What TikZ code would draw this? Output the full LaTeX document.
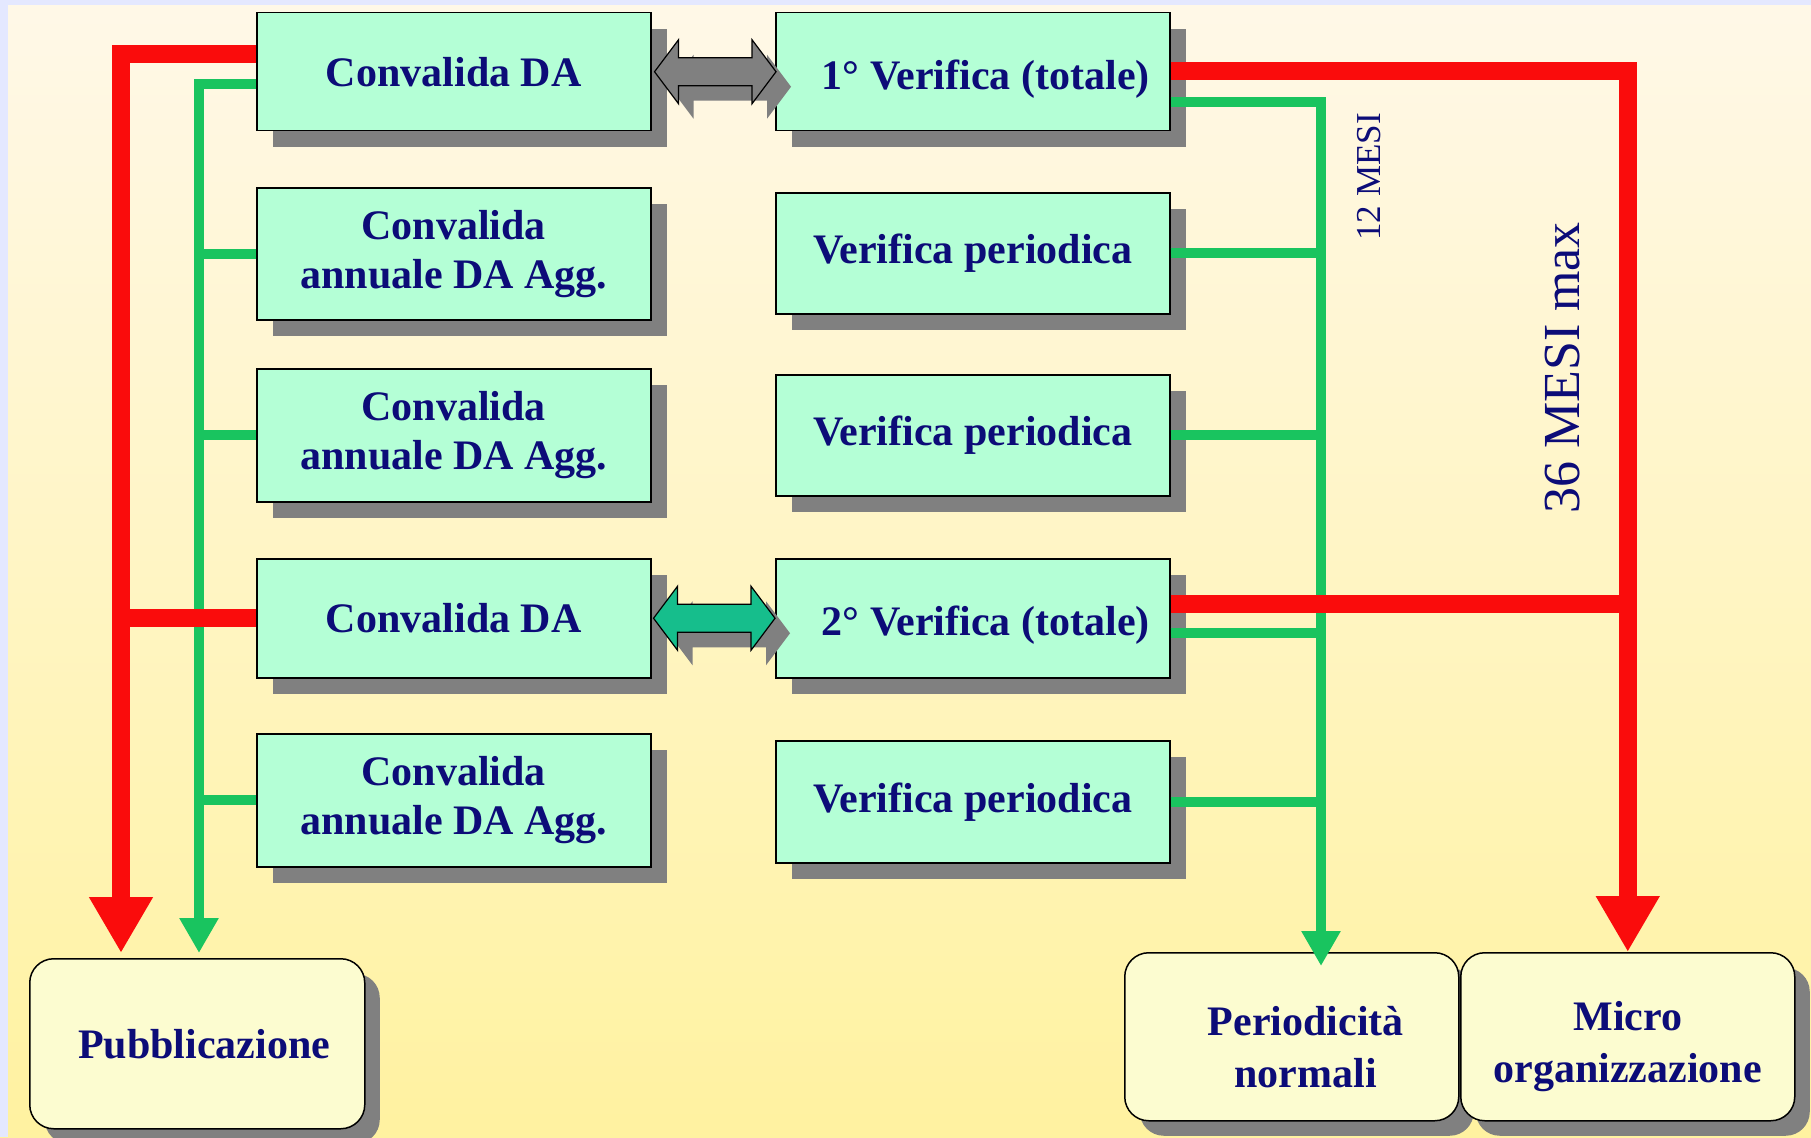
\documentclass[tikz,border=0pt]{standalone}
\usepackage{fontspec}
\setmainfont{Liberation Serif}
\usetikzlibrary{calc,arrows.meta,shadows}
\definecolor{bgtop}{RGB}{255,248,232}
\definecolor{bgmid}{RGB}{255,246,205}
\definecolor{bgbot}{RGB}{255,242,160}
\definecolor{edgeblue}{RGB}{228,232,255}
\definecolor{mint}{RGB}{180,255,214}
\definecolor{cream}{RGB}{252,252,208}
\definecolor{shadowgray}{RGB}{128,128,128}
\definecolor{arrgray}{RGB}{128,128,128}
\definecolor{navy}{RGB}{12,12,120}
\definecolor{lred}{RGB}{250,12,12}
\definecolor{lgreen}{RGB}{25,196,95}
\definecolor{tealarr}{RGB}{22,190,140}
\newcommand\bxfont{\bfseries\fontsize{42}{49}\selectfont}
\newcommand\botfont{\bfseries\fontsize{42}{52}\selectfont}
\newcommand\dbarr[4]{%
  \path[#4] ($(#1)+(#3,#3)$) -- ($(#1)+({#3+24},{#3-32})$) -- ($(#1)+({#3+24},{#3-14})$)
    -- ($(#2)+({#3-24},{#3-14})$) -- ($(#2)+({#3-24},{#3-32})$) -- ($(#2)+(#3,#3)$)
    -- ($(#2)+({#3-24},{#3+32})$) -- ($(#2)+({#3-24},{#3+14})$)
    -- ($(#1)+({#3+24},{#3+14})$) -- ($(#1)+({#3+24},{#3+32})$) -- cycle;}
\begin{document}
\begin{tikzpicture}[x=1pt,y=-1pt,
  box/.style={draw=black, line width=1.5pt, fill=mint, anchor=north west,
    minimum width=394pt, inner sep=0pt, text=navy, font=\bxfont, align=center,
    general shadow={fill=shadowgray, shadow xshift=16pt, shadow yshift=-16pt}},
  endbox/.style={draw=black, line width=1.5pt, fill=cream, rounded corners=24pt,
    anchor=north west, inner sep=0pt, text=navy, font=\botfont, align=center,
    general shadow={fill=shadowgray, shadow xshift=15pt, shadow yshift=-15pt}},
  tl/.style={text=navy, font=\botfont, align=center, inner sep=0pt},
  redline/.style={draw=lred, line width=18pt, line join=miter},
  greenline/.style={draw=lgreen, line width=10pt, line join=miter},
  redtip/.style={-{Triangle[width=60pt,length=56pt]}},
  greentip/.style={-{Triangle[width=37pt,length=35pt]}},
  lbl/.style={text=navy, rotate=90, inner sep=0pt}
]
\shade[top color=bgtop, middle color=bgmid, bottom color=bgbot] (0,0) rectangle (1811,1137);
\fill[edgeblue] (0,0) rectangle (1811,5);
\fill[edgeblue] (0,0) rectangle (8,1137);
\useasboundingbox (0,0) rectangle (1811,1137);

% left column
\node[box, minimum height=118pt] (L1) at (256,12) {Convalida DA};
\node[box, minimum height=132pt] (L2) at (256,187) {Convalida\\annuale DA Agg.};
\node[box, minimum height=133pt] (L3) at (256,368) {Convalida\\annuale DA Agg.};
\node[box, minimum height=119pt] (L4) at (256,558) {Convalida DA};
\node[box, minimum height=133pt] (L5) at (256,733) {Convalida\\annuale DA Agg.};
% right column
\node[box, minimum height=118pt,
  label={[tl, xshift=13pt, yshift=-7pt]center:{1° Verifica (totale)}}] (R1) at (775,12) {};
\node[box, minimum height=121pt] (R2) at (775,192) {Verifica periodica};
\node[box, minimum height=121pt] (R3) at (775,374) {Verifica periodica};
\node[box, minimum height=119pt,
  label={[tl, xshift=13pt, yshift=-7pt]center:{2° Verifica (totale)}}] (R4) at (775,558) {};
\node[box, minimum height=122pt] (R5) at (775,740) {Verifica periodica};
% bottom boxes
\node[endbox, minimum width=335pt, minimum height=170pt,
  label={[tl, xshift=7pt]center:{Pubblicazione}}] (Pub) at (29,958) {};
\node[endbox, minimum width=334pt, minimum height=168pt,
  label={[tl, xshift=14pt, yshift=-10pt]center:{Periodicità\\normali}}] (Per) at (1124,952) {};
\node[endbox, minimum width=334pt, minimum height=168pt,
  label={[tl, yshift=-10pt]center:{Micro\\organizzazione}}] (Mic) at (1460,952) {};

% double arrows
\coordinate (g1a) at ($(L1.east)+(3,0)$);
\coordinate (g1b) at ($(R1.west)+(1,0)$);
\coordinate (g4a) at ($(L4.east)+(2,0)$);
\coordinate (g4b) at ($(R4.west)+(0,0)$);
\dbarr{g1a}{g1b}{15}{fill=shadowgray}
\dbarr{g1a}{g1b}{0}{fill=arrgray, draw=black, line width=1.2pt}
\dbarr{g4a}{g4b}{15}{fill=shadowgray}
\dbarr{g4a}{g4b}{0}{fill=tealarr, draw=black, line width=1.2pt}

% helper coordinates
\coordinate (rl) at (121,0);
\coordinate (gl) at (199,0);
\coordinate (gr) at (1321,0);
\coordinate (pubtop) at ([yshift=5pt]Pub.north);
\coordinate (pertip) at ([yshift=-14pt]Per.north);
\coordinate (r4r) at ([yshift=14.5pt]R4.east);
\coordinate (r4g) at ([yshift=-14.5pt]R4.east);

% green connectors
\draw[greenline, greentip] ([yshift=-12pt]L1.west) -| (pubtop -| gl);
\draw[greenline] (L2.west) -- (L2.west -| gl);
\draw[greenline] (L3.west) -- (L3.west -| gl);
\draw[greenline] (L5.west) -- (L5.west -| gl);
\draw[greenline, greentip] ([yshift=-30pt]R1.east) -| (pertip -| gr);
\draw[greenline] (R2.east) -- (R2.east -| gr);
\draw[greenline] (R3.east) -- (R3.east -| gr);
\draw[greenline] (r4g) -- (r4g -| gr);
\draw[greenline] (R5.east) -- (R5.east -| gr);

% red connectors
\draw[redline, redtip] ([yshift=18pt]L1.west) -| (pubtop -| rl);
\draw[redline] (L4.west) -- (L4.west -| rl);
\draw[redline, redtip] ([yshift=1pt]R1.east) -| (Mic.north);
\draw[redline] (r4r) -- (r4r -| Mic.north);

% labels
\node[lbl, font=\fontsize{35}{35}\selectfont] (m12) at (1369,177) {12 MESI};
\node[lbl, font=\fontsize{52}{52}\selectfont] (m36) at (1563,368) {36 MESI max};
\end{tikzpicture}
\end{document}
